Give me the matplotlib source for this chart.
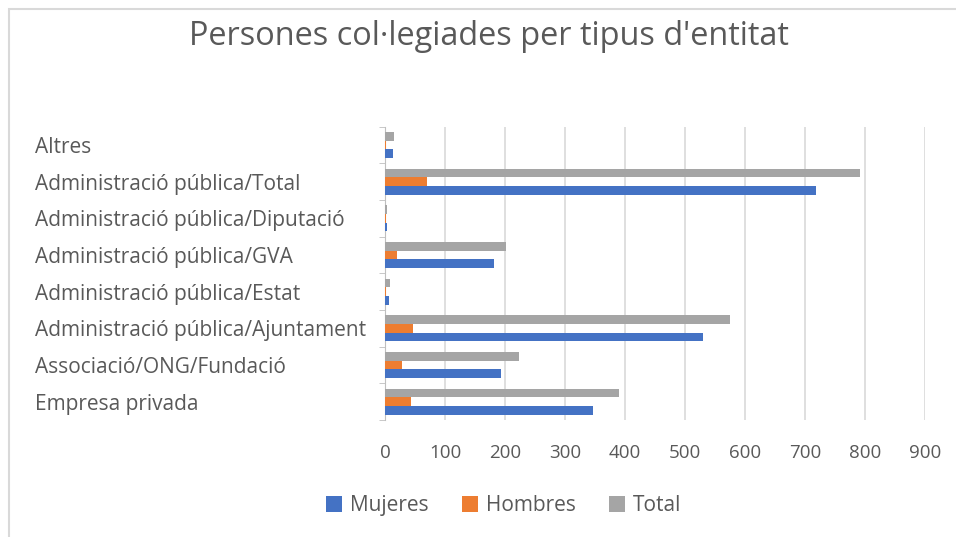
import numpy as np
import matplotlib.pyplot as plt
from matplotlib.patches import Rectangle

plt.rcParams['font.family'] = ['Open Sans', 'DejaVu Sans']

# Data
categories = ['Empresa privada', 'Associació/ONG/Fundació', 'Administració pública/Ajuntament',
              'Administració pública/Estat', 'Administració pública/GVA',
              'Administració pública/Diputació', 'Administració pública/Total', 'Altres']
mujeres = [347, 194, 530, 6, 182, 3, 719, 13]
hombres = [44, 29, 46, 2, 20, 1, 70, 2]
total = [390, 224, 575, 9, 202, 4, 792, 15]

series_names = ['Mujeres', 'Hombres', 'Total']
colors = ['#4472C4', '#ED7D31', '#A5A5A5']
text_color = '#595959'

fig = plt.figure(figsize=(9.56, 5.37), dpi=100)
ax = fig.add_axes([0.4027, 0.218, 0.565, 0.546])

y = np.arange(len(categories))
h = 0.235
for i, (vals, name, c) in enumerate(zip([mujeres, hombres, total], series_names, colors)):
    ax.barh(y + (i - 1) * h, vals, height=h, color=c, label=name, zorder=3)

ax.set_xlim(0, 900)
ax.set_ylim(-0.5, len(categories) - 0.5)
ax.set_xticks(np.arange(0, 901, 100))
ax.tick_params(axis='x', length=0, labelsize=13.5, colors=text_color, pad=17)
ax.set_yticks(y)
ax.set_yticklabels(categories, ha='left')
ax.tick_params(axis='y', length=0, labelsize=15, colors=text_color, pad=252)
# category boundary ticks
ax.set_yticks(np.arange(-0.5, len(categories)), minor=True)
ax.tick_params(axis='y', which='minor', length=4, color='#bfbfbf', direction='out')

ax.grid(axis='x', color='#d9d9d9', linewidth=1.2, zorder=0)
for s in ['top', 'right', 'bottom']:
    ax.spines[s].set_visible(False)
ax.spines['left'].set_color('#bfbfbf')

fig.suptitle("Persones col·legiades per tipus d'entitat", x=0.511, y=0.962,
             fontsize=23.4, color=text_color)

fig.legend(loc='center', bbox_to_anchor=(0.527, 0.058), ncol=3, frameon=False,
           fontsize=15, handlelength=0.75, handleheight=0.75, columnspacing=1.6,
           handletextpad=0.4, labelcolor=text_color)

fig.patches.append(Rectangle((0.009, -0.05), 1.05, 1.033, transform=fig.transFigure,
                             fill=False, edgecolor='#d9d9d9', linewidth=1.5))

fig.savefig('out.png', dpi=100)
